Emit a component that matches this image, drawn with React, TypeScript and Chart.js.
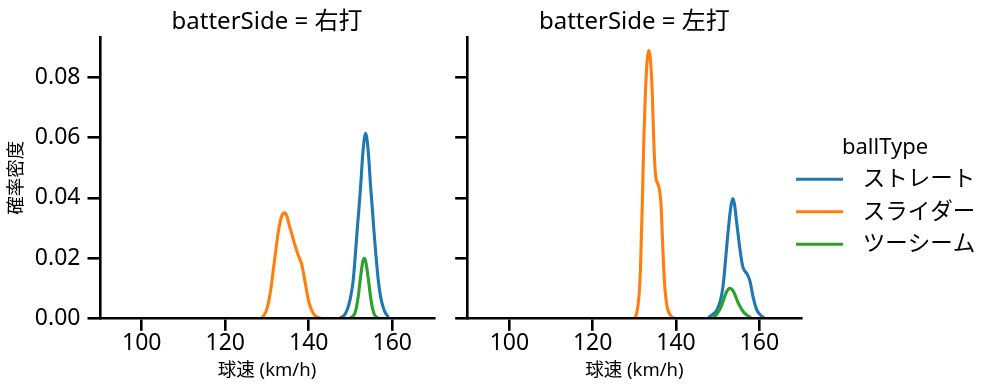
import React, { useEffect, useRef } from 'react';
import { Chart, registerables } from 'chart.js';

Chart.register(...registerables);

const FONT = '"Noto Sans", "Noto Sans CJK JP", sans-serif';

// ---------- data ----------
const panelTitles = ['batterSide = 右打', 'batterSide = 左打'];
const ballTypes = ['ストレート', 'スライダー', 'ツーシーム'];
const colors = ['#1f77b4', '#ff7f0e', '#2ca02c'];
const xTickValues = [100, 120, 140, 160];
const yTickValues = [0, 0.02, 0.04, 0.06, 0.08];
const xMin = 90;
const xMax = 170;
const yMax = 0.0934;
const xLabel = '球速 (km/h)';
const yLabel = '確率密度';
const legendTitle = 'ballType';

// 右打 (right-handed batters)
const rStraightX = [147.5, 148.1, 148.8, 149.45, 150.05, 150.65, 151.1, 151.6, 152.0, 152.42, 153.0, 153.62, 154.24, 154.82, 155.25, 155.6, 156.15, 156.65, 157.2, 157.79, 158.44, 159.1];
const rStraightY = [0.0001, 0.0005, 0.0016, 0.0038, 0.0072, 0.0127, 0.02, 0.0293, 0.036, 0.0437, 0.0556, 0.0614, 0.0556, 0.0437, 0.036, 0.0293, 0.02, 0.0127, 0.0072, 0.0038, 0.0016, 0.0004];
const rSliderX = [128.7, 129.3, 129.9, 130.5, 131.0, 131.6, 132.3, 132.65, 133.46, 134.25, 134.8, 135.3, 135.9, 136.5, 137.06, 137.6, 138.26, 138.8, 139.46, 140.0, 140.66, 141.3, 142.0, 142.8];
const rSliderY = [0.0003, 0.001, 0.0028, 0.0062, 0.0105, 0.0171, 0.0245, 0.0282, 0.0337, 0.035, 0.0338, 0.031, 0.0282, 0.0252, 0.0227, 0.0205, 0.0182, 0.0145, 0.0094, 0.0055, 0.0028, 0.0012, 0.0004, 0.0001];
const rTwoSeamX = [149.9, 150.5, 151.05, 151.45, 151.85, 152.42, 152.9, 153.29, 153.7, 154.2, 154.8, 155.2, 155.6, 156.1, 156.6];
const rTwoSeamY = [0.0001, 0.0006, 0.0017, 0.0038, 0.0072, 0.0138, 0.0185, 0.0199, 0.0185, 0.0138, 0.0072, 0.0038, 0.0017, 0.0005, 0.0001];

// 左打 (left-handed batters)
const lStraightX = [147.8, 148.63, 149.3, 149.82, 150.3, 150.78, 151.2, 151.57, 152.2, 152.83, 153.25, 153.64, 154.05, 154.44, 155.22, 155.65, 156.04, 156.5, 157.0, 157.4, 157.79, 158.58, 159.38, 160.34, 161.1];
const lStraightY = [0.0003, 0.0011, 0.0018, 0.0028, 0.0044, 0.0066, 0.0098, 0.0144, 0.0243, 0.0332, 0.0378, 0.0398, 0.0378, 0.0332, 0.0243, 0.02, 0.0171, 0.0157, 0.0149, 0.0137, 0.0121, 0.0066, 0.0028, 0.001, 0.0002];
const lSliderX = [130.0, 130.3, 130.84, 131.2, 131.48, 131.89, 132.27, 132.68, 133.1, 133.47, 133.85, 134.28, 134.66, 135.0, 135.3, 135.6, 135.9, 136.2, 136.43, 136.82, 137.3, 137.87, 138.6, 139.4];
const lSliderY = [0.0001, 0.0005, 0.0038, 0.009, 0.0171, 0.037, 0.0591, 0.0757, 0.086, 0.089, 0.086, 0.0757, 0.0591, 0.049, 0.0458, 0.0448, 0.0435, 0.041, 0.037, 0.0238, 0.0105, 0.0038, 0.0011, 0.0001];
const lTwoSeamX = [149.0, 149.5, 149.96, 150.5, 151.0, 151.4, 151.8, 152.3, 152.83, 153.35, 153.83, 154.3, 154.79, 155.3, 155.84, 156.4, 157.0, 157.95];
const lTwoSeamY = [0.0003, 0.0009, 0.0017, 0.0029, 0.0044, 0.006, 0.0077, 0.0092, 0.00995, 0.0097, 0.0088, 0.0073, 0.0055, 0.0041, 0.0028, 0.0018, 0.0011, 0.0002];

// ---------- helpers ----------
function buildDatasets(xs: number[][], ys: number[][]) {
  return xs.map((xArr, i) => ({
    label: ballTypes[i],
    data: xArr.map((v, j) => ({ x: v, y: ys[i][j] })),
    borderColor: colors[i],
    backgroundColor: colors[i],
    borderWidth: 3.1,
    pointRadius: 0,
    pointHoverRadius: 0,
    tension: 0.4,
    cubicInterpolationMode: 'monotone',
    fill: false,
    order: 3 - i,
  }));
}

function makeScales(isLeft: boolean) {
  return {
    x: {
      type: 'linear',
      min: xMin,
      max: xMax,
      afterBuildTicks: (s: any) => {
        s.ticks = xTickValues.map((v) => ({ value: v }));
      },
      afterFit: (s: any) => {
        s.height = 72.7;
      },
      grid: { drawOnChartArea: false, drawTicks: true, tickLength: 12.5, color: '#000', lineWidth: 2.6 },
      border: { display: true, color: '#000', width: 2.6, z: 1 },
      ticks: {
        color: '#000',
        font: { size: 23, family: FONT, lineHeight: 1 },
        padding: 1.5,
        maxRotation: 0,
        autoSkip: false,
        callback: (v: any) => String(v),
      },
      title: {
        display: true,
        text: xLabel,
        color: '#000',
        font: { size: 18.5, family: FONT, lineHeight: 1.2 },
        padding: { top: 0, bottom: 9.5 },
      },
    },
    y: {
      type: 'linear',
      min: 0,
      max: yMax,
      afterBuildTicks: (s: any) => {
        s.ticks = yTickValues.map((v) => ({ value: v }));
      },
      afterFit: (s: any) => {
        s.width = isLeft ? 100 : 17.7;
      },
      grid: { drawOnChartArea: false, drawTicks: true, tickLength: 12.5, color: '#000', lineWidth: 2.6 },
      border: { display: true, color: '#000', width: 2.6, z: 1 },
      ticks: {
        display: isLeft,
        color: '#000',
        font: { size: 23, family: FONT, lineHeight: 1.2 },
        padding: 7,
        autoSkip: false,
        callback: (v: any) => Number(v).toFixed(2),
      },
      title: {
        display: isLeft,
        text: yLabel,
        color: '#000',
        font: { size: 18.5, family: FONT, lineHeight: 1.2 },
        padding: { top: 6, bottom: 0 },
      },
    },
  };
}

const legendPlugin = {
  id: 'facetLegend',
  afterDraw(chart: any) {
    const ctx = chart.ctx;
    const right = chart.chartArea.right;
    ctx.save();
    ctx.fillStyle = '#000';
    ctx.font = `22px ${FONT}`;
    ctx.textAlign = 'center';
    ctx.textBaseline = 'alphabetic';
    ctx.fillText(legendTitle, right + 84, 153.5);
    ballTypes.forEach((t, i) => {
      const y = 179.3 + i * 32.5;
      ctx.strokeStyle = colors[i];
      ctx.lineWidth = 3.1;
      ctx.beginPath();
      ctx.moveTo(right - 5, y);
      ctx.lineTo(right + 42, y);
      ctx.stroke();
      ctx.fillStyle = '#000';
      ctx.font = `22.5px ${FONT}`;
      ctx.textAlign = 'left';
      ctx.textBaseline = 'middle';
      ctx.fillText(t, right + 61.7, y + 0.5);
    });
    ctx.restore();
  },
};

function makeConfig(isLeft: boolean, xs: number[][], ys: number[][]): any {
  return {
    type: 'line',
    data: { datasets: buildDatasets(xs, ys) },
    options: {
      animation: false,
      responsive: false,
      maintainAspectRatio: false,
      devicePixelRatio: 1,
      layout: { padding: { left: 0, top: 0, bottom: 0, right: isLeft ? 16 : 194 } },
      scales: makeScales(isLeft),
      plugins: {
        legend: { display: false },
        tooltip: { enabled: false },
        title: {
          display: true,
          text: isLeft ? panelTitles[0] : panelTitles[1],
          color: '#000',
          fullSize: false,
          font: { size: 24, family: FONT, weight: 'normal', lineHeight: 1.2 },
          padding: { top: 8, bottom: 0.2 },
        },
      },
    },
    plugins: isLeft ? [] : [legendPlugin],
  };
}

export default function App() {
  const leftRef = useRef<HTMLCanvasElement | null>(null);
  const rightRef = useRef<HTMLCanvasElement | null>(null);

  useEffect(() => {
    Chart.defaults.font.family = FONT;
    Chart.defaults.color = '#000';
    const left = new Chart(
      leftRef.current as HTMLCanvasElement,
      makeConfig(true, [rStraightX, rSliderX, rTwoSeamX], [rStraightY, rSliderY, rTwoSeamY])
    );
    const right = new Chart(
      rightRef.current as HTMLCanvasElement,
      makeConfig(false, [lStraightX, lSliderX, lTwoSeamX], [lStraightY, lSliderY, lTwoSeamY])
    );
    return () => {
      left.destroy();
      right.destroy();
    };
  }, []);

  return (
    <div style={{ position: 'absolute', left: 0, top: 0, width: 995, height: 391, background: '#fff' }}>
      <canvas ref={leftRef} width={450} height={391} style={{ position: 'absolute', left: 0, top: 0, width: 450, height: 391 }} />
      <canvas ref={rightRef} width={545} height={391} style={{ position: 'absolute', left: 450, top: 0, width: 545, height: 391 }} />
    </div>
  );
}
